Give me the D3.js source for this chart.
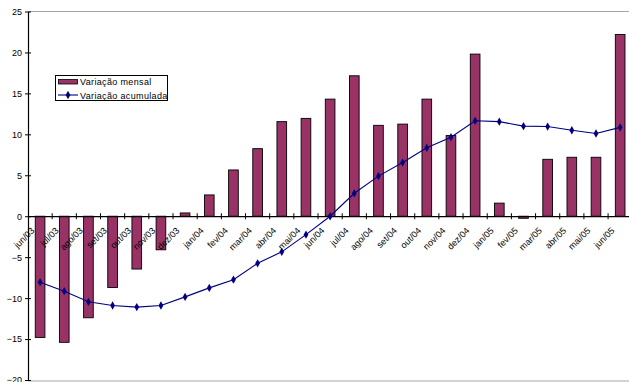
<!DOCTYPE html>
<html>
<head>
<meta charset="utf-8">
<script src="https://cdn.jsdelivr.net/npm/d3@7"></script>
<style>
  html, body { margin: 0; padding: 0; background: #fff; }
  svg { display: block; font-family: "Liberation Sans", Arial, sans-serif; }
</style>
</head>
<body>
<svg id="chart" width="629" height="382"></svg>
<script>
// Months from jun/03 to jun/05
const months = ["jun/03","jul/03","ago/03","set/03","out/03","nov/03","dez/03",
  "jan/04","fev/04","mar/04","abr/04","mai/04","jun/04","jul/04","ago/04","set/04",
  "out/04","nov/04","dez/04","jan/05","fev/05","mar/05","abr/05","mai/05","jun/05"];

// Monthly variation (%)
const variacaoMensal = [-14.8, -15.4, -12.4, -8.7, -6.45, -4.1, 0.4,
  2.6, 5.65, 8.25, 11.55, 11.95, 14.3, 17.15, 11.1, 11.25,
  14.3, 9.85, 19.8, 1.6, -0.25, 6.95, 7.2, 7.2, 22.2];

// Accumulated variation (%)
const variacaoAcumulada = [-8.05, -9.15, -10.45, -10.9, -11.1, -10.9, -9.85,
  -8.75, -7.75, -5.75, -4.35, -2.25, 0.0, 2.8, 4.9, 6.55,
  8.35, 9.65, 11.65, 11.55, 11.0, 10.95, 10.5, 10.1, 10.85];

const yTicks = [-20, -15, -10, -5, 0, 5, 10, 15, 20, 25];

const svg = d3.select("#chart");
const plotLeft = 28, bandW = 24.17;
const plotTop = 11.5, plotBottom = 380;

const x = d3.scaleBand()
  .domain(months)
  .range([plotLeft, plotLeft + bandW * months.length])
  .paddingInner(0).paddingOuter(0);

const y = d3.scaleLinear().domain([-20, 25]).range([plotBottom, plotTop]);

// Plot area border (top and bottom)
svg.append("line").attr("x1", plotLeft).attr("x2", 629)
  .attr("y1", y(25)).attr("y2", y(25))
  .attr("stroke", "#a6a6a6").attr("stroke-width", 1.2);
svg.append("line").attr("x1", plotLeft).attr("x2", 629)
  .attr("y1", y(-20) + 1).attr("y2", y(-20) + 1)
  .attr("stroke", "#a6a6a6").attr("stroke-width", 1.2);

// Bars
const barW = bandW / 2.5;
svg.append("g").selectAll("rect")
  .data(months)
  .join("rect")
  .attr("x", (d) => x(d) + (bandW - barW) / 2)
  .attr("y", (d, i) => y(Math.max(0, variacaoMensal[i])))
  .attr("width", barW)
  .attr("height", (d, i) => Math.abs(y(variacaoMensal[i]) - y(0)))
  .attr("fill", "#993366")
  .attr("stroke", "#000")
  .attr("stroke-width", 0.9);

// Y axis
const yAxis = d3.axisLeft(y).tickValues(yTicks).tickSize(0).tickPadding(6);
const gy = svg.append("g").attr("transform", `translate(${plotLeft},0)`).call(yAxis);
gy.select(".domain").attr("stroke", "#000").attr("stroke-width", 1.2);
gy.selectAll(".tick text").attr("font-size", 9).attr("fill", "#000")
  .attr("font-family", "Liberation Sans, Arial, sans-serif");
gy.selectAll(".tick").append("line")
  .attr("x1", -3).attr("x2", 3).attr("stroke", "#000");

// X axis on the zero line
const xAxis = d3.axisBottom(x).tickSize(0).tickPadding(0);
const gx = svg.append("g").attr("transform", `translate(0,${y(0)})`).call(xAxis);
gx.select(".domain").attr("stroke", "#000").attr("stroke-width", 1.2);
gx.selectAll(".tick text")
  .attr("font-size", 9)
  .attr("fill", "#000")
  .attr("font-family", "Liberation Sans, Arial, sans-serif")
  .attr("text-anchor", "end")
  .attr("dy", null)
  .attr("transform", "translate(-5,15) rotate(-45)");
// Tick marks between categories
svg.append("g").selectAll("line")
  .data(months.slice(1))
  .join("line")
  .attr("x1", (d) => x(d)).attr("x2", (d) => x(d))
  .attr("y1", y(0) - 3).attr("y2", y(0) + 3)
  .attr("stroke", "#000");

// Accumulated line
const line = d3.line()
  .x((d, i) => x(months[i]) + bandW / 2)
  .y((d) => y(d));
svg.append("path")
  .datum(variacaoAcumulada)
  .attr("d", line)
  .attr("fill", "none")
  .attr("stroke", "#000080")
  .attr("stroke-width", 1.1);

const diamond = d3.symbol().type(d3.symbolDiamond).size(20);
svg.append("g").selectAll("path")
  .data(variacaoAcumulada)
  .join("path")
  .attr("d", diamond)
  .attr("transform", (d, i) => `translate(${x(months[i]) + bandW / 2},${y(d)})`)
  .attr("fill", "#000080");

// Legend
const lg = svg.append("g");
lg.append("rect").attr("x", 55.5).attr("y", 75.5).attr("width", 112).attr("height", 25)
  .attr("fill", "#fff").attr("stroke", "#000").attr("stroke-width", 1);
lg.append("rect").attr("x", 58.5).attr("y", 79.5).attr("width", 19).attr("height", 4.5)
  .attr("fill", "#993366").attr("stroke", "#000").attr("stroke-width", 0.8);
lg.append("text").attr("x", 80).attr("y", 85).attr("font-size", 9)
  .attr("letter-spacing", 0.35).text("Variação mensal");
lg.append("line").attr("x1", 58).attr("x2", 78).attr("y1", 95).attr("y2", 95)
  .attr("stroke", "#000080").attr("stroke-width", 1.1);
lg.append("path").attr("d", diamond).attr("transform", "translate(68,95)").attr("fill", "#000080");
lg.append("text").attr("x", 80).attr("y", 98.5).attr("font-size", 9)
  .attr("letter-spacing", 0.35).text("Variação acumulada");
</script>
</body>
</html>
